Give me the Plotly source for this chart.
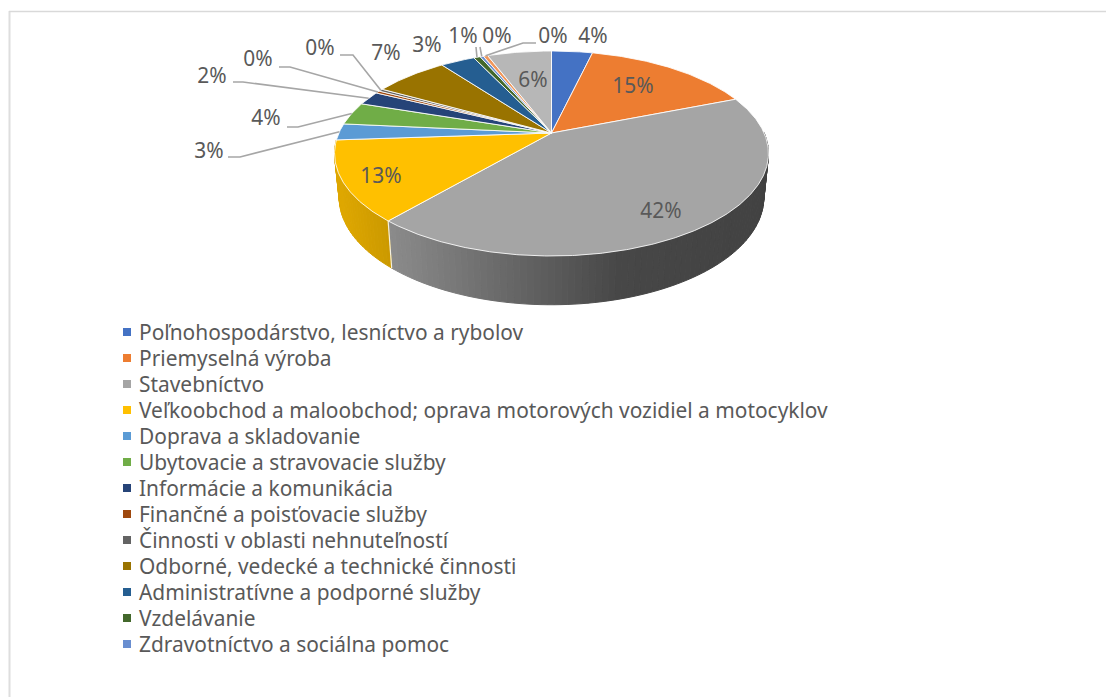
import numpy as np
import plotly.graph_objects as go

# ---------- data ----------
shares = [3.7, 15.3, 42.3, 12.6, 2.6, 3.6, 2.2, 0.4, 0.4, 6.7, 3.1, 0.6, 0.3, 0.4, 5.8]
slice_colors = ["#4472C4", "#ED7D31", "#A5A5A5", "#FFC000", "#5B9BD5", "#70AD47", "#264478",
                "#9E480E", "#636363", "#997300", "#255E91", "#43682B", "#698ED0", "#F1975A", "#B7B7B7"]
legend_names = ["Poľnohospodárstvo, lesníctvo a rybolov", "Priemyselná výroba", "Stavebníctvo",
                "Veľkoobchod a maloobchod; oprava motorových vozidiel a motocyklov",
                "Doprava a skladovanie", "Ubytovacie a stravovacie služby", "Informácie a komunikácia",
                "Finančné a poisťovacie služby", "Činnosti v oblasti nehnuteľností",
                "Odborné, vedecké a technické činnosti", "Administratívne a podporné služby",
                "Vzdelávanie", "Zdravotníctvo a sociálna pomoc"]

# ---------- layout of the 3-D look (pixel scale of the hidden axes) ----------
W, H = 1106, 697
CX, TOP_Y, A, B, K = 551.5, 133.0, 212.6, 98.4, 0.2
BOT_Y, BOT_A, BOT_B = 176.0, 208.0, 103.0
GRAY = "#595959"
FONT = "Noto Sans"
FS = 20.9
# side-wall shading: slice index -> (x stops, brightness stops)
side_shade = {2: ([390, 620, 768], [0.84, 0.43, 0.40]),
              3: ([340, 392], [0.87, 0.79])}
# label anchor for each slice (centre of the text)
label_xy = [(593, 38), (633, 88), (661, 212.5), (381, 177.5), (209, 153), (266, 120), (212, 78),
            (258, 61), (320, 50), (386, 55), (427, 47), (463, 38), (497, 38), (553, 38), (533, 82)]
# leader: slice index -> elbow points
leaders = {4: [(240, 157), (228, 157)], 5: [(298, 127), (287, 127)], 6: [(243, 82), (233, 82)],
           7: [(290, 67), (279, 67)], 8: [(353, 55), (340, 55)], 11: [(476, 47)], 12: [(480, 47)],
           13: [(523, 43), (536, 43)]}
LEG_X, LEG_TEXT_X, LEG_Y0, LEG_STEP = 127, 139, 334.5, 26


def project(deg, y0=TOP_Y, a=A, b=B):
    t = np.radians(deg)
    u, v = np.sin(t), np.cos(t)
    w = 1 + K * v
    return CX + a * u / w, y0 - b * v / w


def hex_scale(c, f):
    r, g, b = int(c[1:3], 16), int(c[3:5], 16), int(c[5:7], 16)
    return f"rgb({r*f:.0f},{g*f:.0f},{b*f:.0f})"


edges = np.concatenate([[0], np.cumsum(shares)]) / sum(shares) * 360
fig = go.Figure()

# side walls
for i, (xs, fs) in side_shade.items():
    a0, a1 = edges[i], edges[i + 1]
    grid = np.arange(a0, a1 + 1.5, 1.5)
    grid[-1] = a1
    for p, q in zip(grid[:-1], grid[1:]):
        if np.cos(np.radians((p + q) / 2)) > 0:
            continue
        x0, y0 = project(p)
        x1, y1 = project(q)
        x2, y2 = project(q, BOT_Y, BOT_A, BOT_B)
        x3, y3 = project(p, BOT_Y, BOT_A, BOT_B)
        col = hex_scale(slice_colors[i], float(np.interp((x0 + x1) / 2, xs, fs)))
        fig.add_trace(go.Scatter(x=[x0, x1, x2, x3, x0], y=[y0, y1, y2, y3, y0], mode="lines", fill="toself",
                                 fillcolor=col, line=dict(color=col, width=1), hoverinfo="skip", showlegend=False))
# seam between the two visible walls
sx0, sy0 = project(edges[3])
sx1, sy1 = project(edges[3], BOT_Y, BOT_A, BOT_B)
fig.add_trace(go.Scatter(x=[sx0, sx1], y=[sy0, sy1], mode="lines", line=dict(color="#f4f0e0", width=1.2),
                         hoverinfo="skip", showlegend=False))

# top faces
for i, col in enumerate(slice_colors):
    th = np.linspace(edges[i], edges[i + 1], max(3, int((edges[i + 1] - edges[i]) * 2)))
    px, py = project(th)
    fig.add_trace(go.Scatter(x=np.r_[CX, px, CX], y=np.r_[TOP_Y, py, TOP_Y], mode="lines", fill="toself",
                             fillcolor=col, line=dict(color="rgba(255,255,255,0.85)", width=1),
                             hoverinfo="skip", showlegend=False))

# leader lines
for i, pts in leaders.items():
    sx, sy = project((edges[i] + edges[i + 1]) / 2)
    fig.add_trace(go.Scatter(x=[sx] + [p[0] for p in pts], y=[sy] + [p[1] for p in pts], mode="lines",
                             line=dict(color="#a6a6a6", width=1.6), hoverinfo="skip", showlegend=False))

# percentage labels
fig.add_trace(go.Scatter(x=[p[0] for p in label_xy], y=[p[1] for p in label_xy], mode="text",
                         text=[f"{round(s)}%" for s in shares], textposition="middle center",
                         textfont=dict(family=FONT, size=FS, color=GRAY), hoverinfo="skip", showlegend=False))

# legend
rows = [LEG_Y0 + n * LEG_STEP for n in range(len(legend_names))]
fig.add_trace(go.Scatter(x=[LEG_X] * len(rows), y=[r - 2.5 for r in rows], mode="markers",
                         marker=dict(symbol="square", size=8, color=slice_colors[:len(rows)]),
                         hoverinfo="skip", showlegend=False))
fig.add_trace(go.Scatter(x=[LEG_TEXT_X] * len(rows), y=rows, mode="text", text=legend_names,
                         textposition="middle right", textfont=dict(family=FONT, size=FS, color=GRAY),
                         hoverinfo="skip", showlegend=False))

fig.update_layout(width=W, height=H, margin=dict(l=0, r=0, t=0, b=0), paper_bgcolor="white", plot_bgcolor="white",
                  xaxis=dict(range=[0, W], visible=False), yaxis=dict(range=[H, 0], visible=False),
                  shapes=[dict(type="line", xref="x", yref="y", x0=9.5, x1=9.5, y0=11, y1=H,
                               line=dict(color="#dedede", width=2)),
                          dict(type="line", xref="x", yref="y", x0=9, x1=W, y0=11.5, y1=11.5,
                               line=dict(color="#d9d9d9", width=1.5))])
fig.write_html("out.html", config=dict(displayModeBar=False),
               post_script="document.body.style.margin='0';document.body.style.overflow='hidden';")
